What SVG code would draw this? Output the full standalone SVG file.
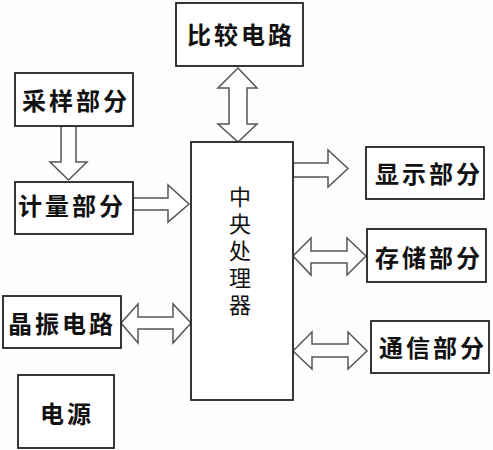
<svg xmlns="http://www.w3.org/2000/svg" width="493" height="450" viewBox="0 0 493 450">
<style>
.box{fill:#fff;stroke:#222;stroke-width:1.8}
.t{font-family:"Noto Sans CJK SC","Noto Sans",sans-serif;font-size:24px;font-weight:bold;fill:#111;text-anchor:middle;dominant-baseline:central;letter-spacing:3px}
.c{font-family:"Noto Sans CJK SC","Noto Sans",sans-serif;font-size:22px;fill:#111;text-anchor:middle;writing-mode:vertical-rl;letter-spacing:5px}
.ar{fill:#fff;stroke:#555;stroke-width:1.5;stroke-linejoin:miter}
</style>
<rect width="493" height="450" fill="#fdfdfd"/>
<g id="connectors">
<polygon class="ar" points="61,126 76,126 76,162 87,162 68.5,180 50,162 61,162"/>
<polygon class="ar" points="133,198 168,198 168,185 189,204 168,222 168,210 133,210"/>
<polygon class="ar" points="238,68 257,88 247,88 247,124 257,124 238,142 218,124 229,124 229,88 218,88"/>
<polygon class="ar" points="293,163 328,163 328,150 348,168.5 328,187 328,177 293,177"/>
<polygon class="ar" points="293,256 311,238 311,251 347,251 347,238 366,256 347,275 347,263 311,263 311,275"/>
<polygon class="ar" points="293,351 312,332 312,344 348,344 348,332 367,351 348,369 348,357 312,357 312,369"/>
<polygon class="ar" points="121,323 138,304 138,317 173,317 173,304 191,323 173,343 173,329 138,329 138,343"/>
</g>
<g id="cpu">
<rect class="box" x="191" y="142" width="102" height="258"/>
<text class="c" x="240" y="253">中央处理器</text>
</g>
<g id="bijiao"><rect class="box" x="176" y="3" width="127" height="63"/><text class="t" x="241" y="33">比较电路</text></g>
<g id="caiyang"><rect class="box" x="15" y="73" width="118" height="53"/><text class="t" x="76" y="99">采样部分</text></g>
<g id="jiliang"><rect class="box" x="15" y="182" width="118" height="52"/><text class="t" x="72" y="204">计量部分</text></g>
<g id="jingzhen"><rect class="box" x="3" y="296" width="118" height="52"/><text class="t" x="62" y="322">晶振电路</text></g>
<g id="dianyuan"><rect class="box" x="18" y="375" width="96" height="73"/><text class="t" x="67" y="412">电源</text></g>
<g id="xianshi"><rect class="box" x="366" y="147" width="118" height="52"/><text class="t" x="429" y="172">显示部分</text></g>
<g id="cunchu"><rect class="box" x="367" y="229" width="119" height="53"/><text class="t" x="429" y="256">存储部分</text></g>
<g id="tongxin"><rect class="box" x="371" y="321" width="118" height="52"/><text class="t" x="433" y="346">通信部分</text></g>
</svg>
